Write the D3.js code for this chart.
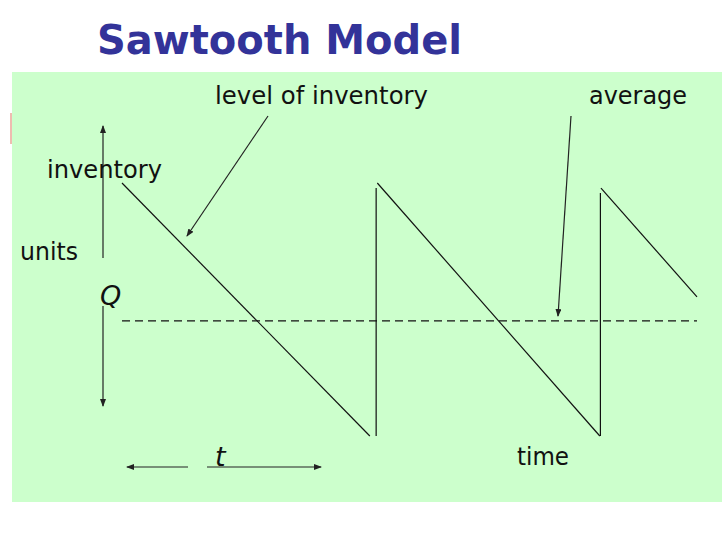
<!DOCTYPE html>
<html>
<head>
<meta charset="utf-8">
<script src="https://cdn.jsdelivr.net/npm/d3@7"></script>
<style>
  body { margin: 0; background: #fff; }
  svg { display: block; }
  text { font-family: "DejaVu Sans", Verdana, sans-serif; fill: #111; }
</style>
</head>
<body>
<svg id="chart" width="728" height="546"></svg>
<script>
// Sawtooth segments (time units, inventory units)
var segStartT = [0, 4.42, 4.44, 8.32, 8.33];
var segStartQ = [100, 0, 100, 0, 98];
var segEndT   = [4.31, 4.42, 8.31, 8.32, 10];
var segEndQ   = [0, 98, 0, 96, 55];

// average inventory line
var avgT = [0, 10];
var avgQ = [45.5, 45.5];

var title = "Sawtooth Model";
var labels = ["level of inventory", "average", "inventory", "units", "time"];
var italicLabels = ["Q", "t"];

var svg = d3.select("#chart");

// panel background
svg.append("rect")
	.attr("x", 10).attr("y", 113).attr("width", 3).attr("height", 31)
	.attr("fill", "#efbcb0");
svg.append("rect")
	.attr("x", 12).attr("y", 72).attr("width", 710).attr("height", 430)
	.attr("fill", "#ccffcc");

svg.append("text")
	.attr("x", 97).attr("y", 54)
	.attr("textLength", 365).attr("lengthAdjust", "spacingAndGlyphs")
	.style("font-size", "40px").style("font-weight", "bold")
	.style("fill", "#333399")
	.text(title);

var x = d3.scaleLinear().domain([0, 10]).range([122, 697]);
var y = d3.scaleLinear().domain([0, 100]).range([436, 183]);

// arrow marker
svg.append("defs").append("marker")
	.attr("id", "arr")
	.attr("viewBox", "0 0 8 6")
	.attr("refX", 7).attr("refY", 3)
	.attr("markerWidth", 8).attr("markerHeight", 6)
	.attr("markerUnits", "userSpaceOnUse")
	.attr("orient", "auto")
	.append("path").attr("d", "M0,0 L8,3 L0,6 z").attr("fill", "#222");

// sawtooth
var segs = segStartT.map(function(t, i) {
	return [[t, segStartQ[i]], [segEndT[i], segEndQ[i]]];
});
var line = d3.line()
	.x(function(d) { return x(d[0]); })
	.y(function(d) { return y(d[1]); });

svg.append("g").selectAll("path")
	.data(segs)
	.enter().append("path")
	.attr("d", line)
	.attr("fill", "none")
	.attr("stroke", "#111")
	.attr("stroke-width", 1.2);

// average dashed line
svg.append("path")
	.attr("d", line(avgT.map(function(t, i) { return [t, avgQ[i]]; })))
	.attr("fill", "none")
	.attr("stroke", "#111")
	.attr("stroke-width", 1.2)
	.attr("stroke-dasharray", "8,5");

// annotation arrows [x1, y1, x2, y2]
var arrows = [
	[103, 258, 103, 126],
	[103, 306, 103, 406],
	[188, 467, 127, 467],
	[207, 467, 321, 467],
	[268, 116, 187, 236],
	[571, 116, 558, 316]
];
svg.append("g").selectAll("line")
	.data(arrows)
	.enter().append("line")
	.attr("x1", function(d) { return d[0]; })
	.attr("y1", function(d) { return d[1]; })
	.attr("x2", function(d) { return d[2]; })
	.attr("y2", function(d) { return d[3]; })
	.attr("stroke", "#222")
	.attr("stroke-width", 1.2)
	.attr("marker-end", "url(#arr)");

// labels: x, baseline y, width
var labelPos = [[215, 104, 213], [589, 104, 98], [47, 178, 115], [20, 260, 58], [517, 465, 52]];
labels.forEach(function(s, i) {
	svg.append("text")
		.attr("x", labelPos[i][0]).attr("y", labelPos[i][1])
		.attr("textLength", labelPos[i][2]).attr("lengthAdjust", "spacingAndGlyphs")
		.style("font-size", "25px")
		.text(s);
});

var italicPos = [[100, 305], [215, 466]];
italicLabels.forEach(function(s, i) {
	svg.append("text")
		.attr("x", italicPos[i][0]).attr("y", italicPos[i][1])
		.style("font-size", "27px").style("font-style", "italic")
		.text(s);
});
</script>
</body>
</html>
